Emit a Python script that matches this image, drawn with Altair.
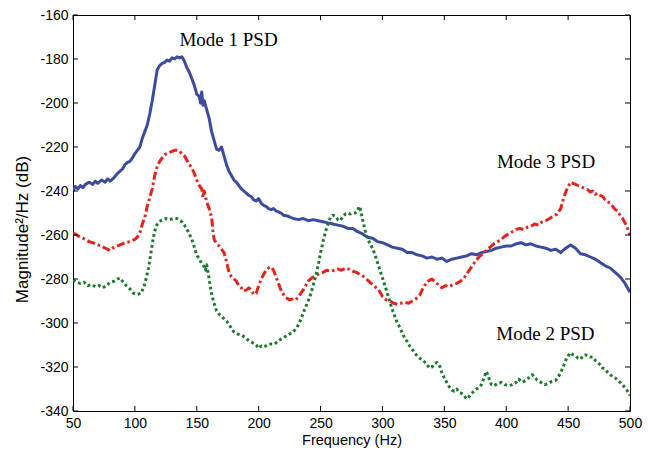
import altair as alt
import pandas as pd

# ---------------- data ----------------
mode1_f = [50, 52, 54, 56, 58, 60, 63, 66, 68, 70, 73, 76, 78, 80, 83, 86, 88, 90, 92, 94,
           96, 98, 100, 102, 104, 106, 108, 110, 112, 114, 116, 118, 120, 122, 124, 126, 128,
           130, 132, 134, 136, 138, 140, 142, 144, 146, 148, 150, 152, 153, 154, 155, 156, 158,
           160, 162, 164, 166, 168, 170, 172, 174, 176, 178, 180, 182, 184, 186, 188, 190, 192,
           194, 196, 198, 200, 202, 204, 206, 208, 210, 212, 214, 216, 218, 220, 224, 228, 232,
           236, 240, 244, 248, 252, 256, 260, 264, 268, 272, 276, 280, 284, 288, 292, 296, 300,
           304, 308, 312, 316, 320, 324, 328, 332, 336, 340, 344, 348, 352, 356, 360, 364, 368,
           372, 376, 380, 384, 388, 392, 396, 400, 404, 408, 412, 416, 420, 424, 428, 432, 436,
           440, 444, 448, 452, 456, 460, 464, 468, 472, 476, 480, 484, 488, 492, 496, 500]
mode1_db = [-240, -238, -239, -237.5, -238.5, -237, -236, -237, -235.5, -236.5, -235, -236, -234.5,
            -235.5, -234, -232, -231, -230, -228, -227, -226.5, -225, -223, -221.5, -220, -216,
            -213, -210, -205, -199, -192, -185, -183, -182, -181.5, -180.5, -181, -179.5, -180,
            -179, -179.5, -179, -181, -184, -186, -189, -192, -196, -197, -200, -195, -201, -199,
            -203, -207, -213, -217, -221, -221.5, -220, -224, -228, -231, -233, -235, -236,
            -237.5, -239, -240, -241, -242, -242.5, -244, -244.5, -243.5, -245.5, -246.5, -247,
            -248, -248.5, -248, -249, -249.5, -250, -251, -251.5, -252.5, -253, -252.5, -253.5,
            -253, -253.5, -254, -254.5, -255, -255.5, -256, -257, -257, -258.5, -259.5, -261,
            -261.5, -263, -263.5, -264.5, -265.5, -266, -266.5, -268, -268, -269, -269.5, -270.5,
            -270, -271, -270.5, -272, -271, -270.5, -270, -269.5, -268.5, -269, -268, -267.5,
            -267, -266, -265.5, -265, -265, -264, -263.5, -264.5, -264, -265, -265.5, -266, -267,
            -266.5, -268, -266, -264.5, -266, -268.5, -269, -270, -271, -272.5, -274, -275, -277,
            -279, -282, -286]

mode3_f = [50, 53, 56, 60, 63, 66, 70, 73, 76, 80, 82, 84, 88, 92, 96, 100, 102, 104, 106, 108,
           110, 112, 114, 116, 118, 120, 122, 124, 126, 128, 130, 132, 134, 136, 138, 140, 142,
           144, 146, 148, 150, 152, 154, 155, 156, 158, 160, 162, 163, 164, 166, 168, 170, 172,
           174, 176, 178, 180, 182, 184, 186, 188, 190, 192, 194, 196, 198, 200, 202, 204, 206,
           208, 210, 212, 214, 216, 218, 220, 222, 225, 228, 230, 232, 234, 236, 238, 240, 243,
           246, 249, 252, 255, 258, 261, 264, 267, 270, 273, 276, 279, 282, 285, 288, 291, 294,
           297, 300, 303, 306, 309, 312, 315, 318, 321, 324, 327, 330, 332, 334, 336, 338, 340,
           342, 345, 348, 351, 354, 357, 360, 363, 366, 369, 372, 375, 378, 381, 384, 387, 390,
           393, 396, 399, 402, 405, 408, 411, 414, 417, 420, 423, 426, 429, 432, 435, 438, 441,
           444, 446, 448, 450, 452, 454, 456, 458, 460, 462, 464, 466, 468, 470, 472, 474, 476,
           478, 480, 482, 484, 486, 488, 490, 492, 494, 496, 498, 500]
mode3_db = [-259, -260, -261, -262, -263, -263.5, -264.5, -265, -266, -267, -266, -265.5, -264.5,
            -263.5, -263, -262, -261, -259, -255, -252, -247, -243, -239, -233, -229, -226.5,
            -225, -223.5, -223, -222.5, -222, -221.5, -221.5, -222, -223, -224, -226, -228,
            -229.5, -232, -235, -237.5, -239, -243, -240, -245, -248, -252, -258, -262, -264,
            -265, -266.5, -268, -272, -277, -279, -280, -281, -283, -284, -285.5, -285, -284,
            -285, -287, -286.5, -283, -280, -278, -276, -275, -274.5, -276, -279, -282, -285,
            -287, -288.5, -289.5, -289, -289.5, -288, -286.5, -285, -283, -281, -279.5, -278.5,
            -277.5, -277, -276, -276.5, -276, -275.5, -276, -275, -275.5, -276.5, -277, -278,
            -279, -280.5, -282, -283.5, -285, -288, -289.5, -290, -291, -291.5, -291, -290.5,
            -291, -290, -289, -287.5, -285, -283, -281.5, -280.5, -280, -281, -282.5, -284, -283,
            -283.5, -282.5, -282, -281, -279.5, -277, -274.5, -272, -270, -268.5, -267, -265.5,
            -264, -263, -262, -260.5, -259.5, -258.5, -257.5, -257, -257.5, -256.5, -256, -255,
            -255.5, -254, -253.5, -252.5, -251.5, -250.5, -248, -244, -240.5, -238, -236, -236.5,
            -237, -237.5, -238, -238.5, -239, -239.5, -240.5, -240, -241.5, -241, -242, -242.5,
            -244, -245, -245.5, -247, -248.5, -249, -251, -252.5, -254.5, -257, -260]

mode2_f = [50, 53, 56, 59, 62, 65, 68, 71, 74, 77, 80, 83, 86, 88, 90, 93, 96, 99, 102, 105, 107,
           109, 111, 113, 115, 117, 119, 121, 123, 125, 128, 131, 134, 137, 140, 142, 144, 146,
           148, 150, 152, 154, 156, 157, 158, 160, 162, 164, 166, 168, 170, 172, 174, 176, 178,
           180, 183, 186, 189, 192, 195, 198, 200, 202, 204, 207, 210, 213, 216, 219, 222, 225,
           228, 231, 234, 237, 240, 242, 244, 246, 248, 250, 252, 254, 256, 258, 260, 262, 264,
           266, 268, 270, 272, 274, 276, 278, 280, 281, 282, 284, 286, 288, 290, 292, 294, 296,
           298, 300, 302, 304, 306, 308, 310, 312, 314, 316, 318, 320, 322, 324, 326, 328, 330,
           333, 336, 338, 340, 342, 344, 346, 348, 350, 352, 354, 356, 358, 360, 362, 364, 366,
           368, 370, 372, 374, 376, 378, 380, 382, 384, 386, 388, 390, 393, 396, 399, 402, 405,
           408, 410, 413, 416, 419, 421, 423, 425, 428, 431, 434, 437, 440, 442, 444, 446, 448,
           450, 452, 454, 456, 458, 460, 462, 464, 466, 468, 470, 472, 474, 476, 478, 480, 482,
           484, 486, 488, 490, 492, 494, 496, 498, 500]
mode2_db = [-280.5, -281.5, -282, -281.5, -283, -282.5, -283.5, -283, -284, -283, -281.5, -281,
            -280, -279.5, -281, -283, -284.5, -286.5, -287, -286.5, -284, -280, -275, -268, -261,
            -256, -254.5, -253.5, -253, -252.5, -253, -252.5, -252.5, -253.5, -255.5, -257.5,
            -259.5, -262, -265.5, -269, -271, -273, -274.5, -276, -273.5, -280, -287, -291,
            -294.5, -296, -297, -298, -299, -300.5, -302.5, -304, -305, -305.5, -306.5, -308,
            -309, -310, -311.5, -310.5, -311, -310, -309.5, -309.5, -308, -307, -306, -305, -304,
            -302, -298.5, -294, -290, -287, -283, -279, -274, -268, -263, -258.5, -255, -252,
            -251, -251.5, -253, -253.5, -251.5, -250.5, -250, -250.5, -250, -250, -249, -247,
            -248, -253, -258, -261.5, -264, -266, -269, -272.5, -276, -279.5, -283, -286.5,
            -290.5, -294, -297, -300, -302, -304.5, -307, -308.5, -310.5, -312, -313.5, -315,
            -316, -317, -319, -320.5, -320, -318.5, -318, -319, -322.5, -325, -327, -329, -330.5,
            -331, -330, -331.5, -332, -333, -334.5, -333.5, -332, -331, -330, -329.5, -328, -325,
            -322, -325, -328, -328.5, -327.5, -327, -328, -328.5, -328, -327, -325.5, -327, -326,
            -324.5, -323.5, -324.5, -326, -327, -328, -327.5, -326.5, -326, -324.5, -322.5, -320,
            -317, -315, -313.5, -314.5, -315, -316, -316.5, -315, -314.5, -315, -315.5, -315.5,
            -317, -318, -319, -320.5, -321, -322.5, -323.5, -324.5, -325, -326, -327, -328,
            -329.5, -331, -333]

label_text = ["Mode 1 PSD", "Mode 3 PSD", "Mode 2 PSD"]
label_f = [136, 392.5, 392]
label_db = [-171.5, -227, -305]

x_ticks = [50, 100, 150, 200, 250, 300, 350, 400, 450, 500]
y_ticks = [-340, -320, -300, -280, -260, -240, -220, -200, -180, -160]

# ---------------- chart ----------------
W, H = 557, 396
xs = alt.Scale(domain=[50, 500], nice=False, zero=False)
ys = alt.Scale(domain=[-340, -160], nice=False, zero=False)
FONT = "Liberation Sans"

x_axis = alt.Axis(values=x_ticks, title="Frequency (Hz)", domain=False, ticks=False, grid=False,
                  labelFont=FONT, labelFontSize=14, labelColor="black", labelPadding=5,
                  labelFlush=False, labelOverlap=False,
                  titleFont=FONT, titleFontSize=14.5, titleFontWeight="normal",
                  titleColor="black", titlePadding=3)
y_axis = alt.Axis(values=y_ticks, title="Magnitude²/Hz (dB)", domain=False, ticks=False,
                  grid=False, labelFont=FONT, labelFontSize=14, labelColor="black",
                  labelPadding=5, labelFlush=False, labelOverlap=False,
                  labelExpr="'' + datum.value",
                  titleFont=FONT, titleFontSize=17, titleFontWeight="normal",
                  titleColor="black", titleAngle=270, titleAlign="center",
                  titleBaseline="bottom", titleX=-42, titleY=214)

X = lambda field: alt.X(field, scale=xs, axis=x_axis)
Y = lambda field: alt.Y(field, scale=ys, axis=y_axis)


def series(fv, dbv, color, dash=None):
    df = pd.DataFrame({"f": fv, "db": dbv})
    kw = dict(color=color, strokeWidth=3, clip=True, strokeCap="butt", strokeJoin="round")
    if dash:
        kw["strokeDash"] = dash
    return alt.Chart(df).mark_line(**kw).encode(x=X("f:Q"), y=Y("db:Q"), order="f:Q")


blue = series(mode1_f, mode1_db, "#3c4b9f")
red = series(mode3_f, mode3_db, "#e4231d", dash=[8, 3, 2.5, 3])
green = series(mode2_f, mode2_db, "#1c7a2d", dash=[2.8, 2.8])

labels = alt.Chart(pd.DataFrame({"f": label_f, "db": label_db, "t": label_text})).mark_text(
    align="left", baseline="middle", font="Liberation Serif", fontSize=19, color="black"
).encode(x=X("f:Q"), y=Y("db:Q"), text="t:N")

xt = pd.DataFrame({"f": x_ticks})
yt = pd.DataFrame({"db": y_ticks})
tick_x_bottom = alt.Chart(xt).mark_rule(color="black", strokeWidth=1).encode(
    x=X("f:Q"), y=alt.value(H), y2=alt.value(H - 5))
tick_x_top = alt.Chart(xt).mark_rule(color="black", strokeWidth=1).encode(
    x=X("f:Q"), y=alt.value(0), y2=alt.value(5))
tick_y_left = alt.Chart(yt).mark_rule(color="black", strokeWidth=1).encode(
    y=Y("db:Q"), x=alt.value(0), x2=alt.value(5))
tick_y_right = alt.Chart(yt).mark_rule(color="black", strokeWidth=1).encode(
    y=Y("db:Q"), x=alt.value(W), x2=alt.value(W - 5))

chart = alt.layer(
    blue, red, green, labels, tick_x_bottom, tick_x_top, tick_y_left, tick_y_right
).properties(
    width=W, height=H,
    autosize=alt.AutoSizeParams(type="none"),
    padding={"left": 73, "top": 15, "right": 23, "bottom": 44},
    background="white",
).configure_view(stroke="black", strokeWidth=1)

chart.save("out.html", embed_options={"renderer": "svg", "actions": False})
